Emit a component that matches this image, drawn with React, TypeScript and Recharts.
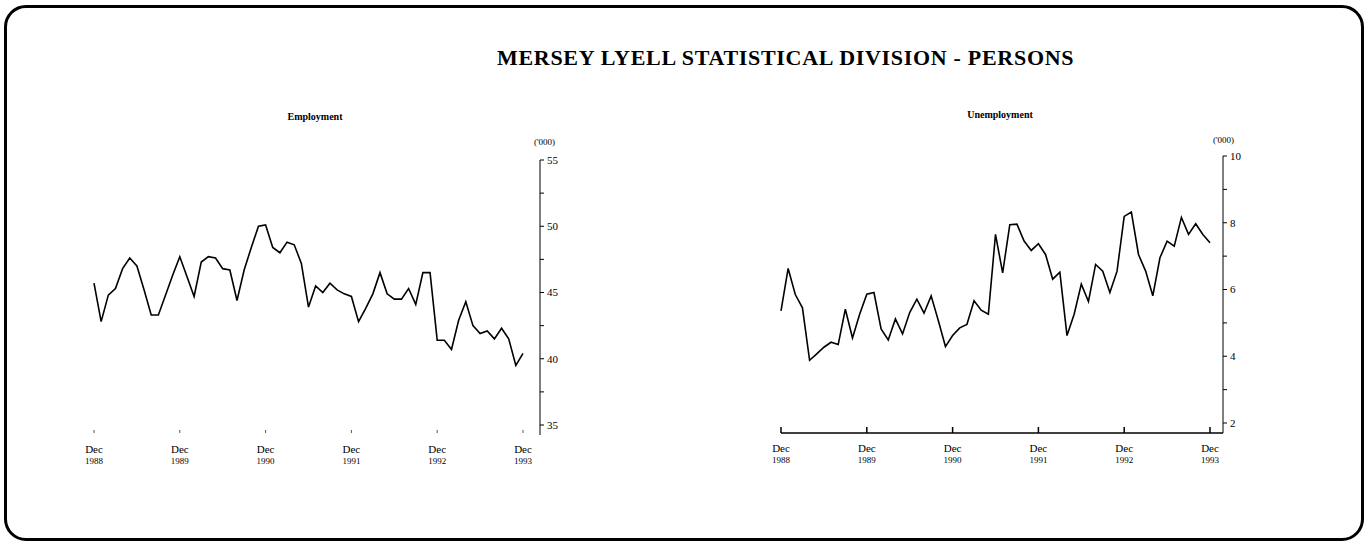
import React from 'react';
import { LineChart, Line, XAxis, YAxis } from 'recharts';

// month index 0 = Dec 1988 ... 60 = Dec 1993
const employment = [
  45.7, 42.8, 44.8, 45.3, 46.8, 47.6, 47.0, 45.2, 43.3, 43.3,
  44.8, 46.3, 47.7, 46.2, 44.7, 47.3, 47.7, 47.6, 46.8, 46.7,
  44.4, 46.7, 48.4, 50.0, 50.1, 48.4, 48.0, 48.8, 48.6, 47.2,
  43.9, 45.5, 45.0, 45.7, 45.2, 44.9, 44.7, 42.8, 43.8, 44.9,
  46.5, 44.9, 44.5, 44.5, 45.3, 44.1, 46.5, 46.5, 41.4, 41.4,
  40.7, 42.9, 44.3, 42.5, 41.9, 42.1, 41.5, 42.3, 41.5, 39.5,
  40.4,
];

const unemployment = [
  5.36, 6.63, 5.85, 5.45, 3.88, 4.07, 4.27, 4.42, 4.35, 5.41,
  4.55, 5.26, 5.86, 5.91, 4.82, 4.49, 5.12, 4.67, 5.31, 5.71,
  5.29, 5.81, 5.07, 4.29, 4.62, 4.85, 4.95, 5.66, 5.38, 5.26,
  7.65, 6.5, 7.94, 7.96, 7.45, 7.17, 7.37, 7.05, 6.31, 6.52,
  4.62, 5.26, 6.16, 5.64, 6.75, 6.55, 5.91, 6.55, 8.19, 8.32,
  7.05, 6.55, 5.81, 6.95, 7.45, 7.3, 8.16, 7.65, 7.97, 7.65,
  7.4,
];

const xTicks = [0, 12, 24, 36, 48, 60];
const yearLabels = ['1988', '1989', '1990', '1991', '1992', '1993'];
const empTicks = [35, 37.5, 40, 42.5, 45, 47.5, 50, 52.5, 55];
const unempTicks = [2, 3, 4, 5, 6, 7, 8, 9, 10];

const empData = employment.map((v, i) => ({ m: i, v }));
const unempData = unemployment.map((v, i) => ({ m: i, v }));

const serif = '"Liberation Serif", "DejaVu Serif", serif';

const DecTick = (props: any) => {
  const { x, y, payload, up } = props;
  const idx = xTicks.indexOf(payload.value);
  return (
    <g transform={`translate(${x},${y})`}>
      {up ? <line x1={0} y1={0} x2={0} y2={-6} stroke="#000" strokeWidth={1.5} /> : <line x1={0} y1={-2} x2={0} y2={-5} stroke="#555" strokeWidth={1} />}
      <text textAnchor="middle" fontFamily={serif} fill="#000">
        <tspan x={0} y={up ? 19 : 18} fontSize={11}>Dec</tspan>
        <tspan x={0} y={up ? 30 : 29} fontSize={9}>{yearLabels[idx]}</tspan>
      </text>
    </g>
  );
};

const App = () => {
  return (
    <div style={{ position: 'absolute', left: 0, top: 0, width: 1370, height: 547, background: '#fff', fontFamily: serif }}>
      <div style={{ position: 'absolute', left: 4, top: 5, width: 1360, height: 536, border: '3px solid #000', borderRadius: 22, boxSizing: 'border-box' }} />

      <div style={{ position: 'absolute', left: 497, top: 45, fontSize: 22, letterSpacing: 0.7, fontWeight: 'bold', whiteSpace: 'nowrap', color: '#000' }}>
        MERSEY LYELL STATISTICAL DIVISION - PERSONS
      </div>
      <div style={{ position: 'absolute', left: 265, width: 100, top: 111, textAlign: 'center', fontSize: 10, fontWeight: 'bold' }}>Employment</div>
      <div style={{ position: 'absolute', left: 940, width: 120, top: 109, textAlign: 'center', fontSize: 10, fontWeight: 'bold' }}>Unemployment</div>
      <div style={{ position: 'absolute', left: 534, top: 137, fontSize: 9 }}>('000)</div>
      <div style={{ position: 'absolute', left: 1213, top: 135, fontSize: 9 }}>('000)</div>

      <div style={{ position: 'absolute', left: 60, top: 130 }}>
        <LineChart width={510} height={347} data={empData} margin={{ top: 30, right: 0, left: 34, bottom: 12 }}>
          <XAxis
            dataKey="m"
            type="number"
            domain={[0, 60]}
            ticks={xTicks}
            interval={0}
            axisLine={false}
            tickLine={false}
            tickSize={0}
            tickMargin={0}
            height={30}
            padding={{ left: 0, right: 17 }}
            tick={<DecTick />}
          />
          <YAxis
            orientation="right"
            type="number"
            domain={[35, 55]}
            ticks={empTicks}
            interval={0}
            width={30}
            padding={{ top: 0, bottom: 10 }}
            stroke="#000"
            tickSize={4}
            tickMargin={3}
            tickFormatter={(v: number) => (v % 5 === 0 ? String(v) : '')}
            tick={{ fontSize: 11, fontFamily: serif, fill: '#000' }}
          />
          <Line type="linear" dataKey="v" stroke="#000" strokeWidth={1.6} dot={false} isAnimationActive={false} />
        </LineChart>
      </div>

      <div style={{ position: 'absolute', left: 740, top: 130 }}>
        <LineChart width={513} height={345} data={unempData} margin={{ top: 26, right: 0, left: 41, bottom: 12 }}>
          <XAxis
            dataKey="m"
            type="number"
            domain={[0, 60]}
            ticks={xTicks}
            interval={0}
            stroke="#000"
            strokeWidth={1.5}
            tickLine={false}
            tickSize={0}
            tickMargin={0}
            height={30}
            padding={{ left: 0, right: 13 }}
            tick={<DecTick up />}
          />
          <YAxis
            orientation="right"
            type="number"
            domain={[2, 10]}
            ticks={unempTicks}
            interval={0}
            width={30}
            padding={{ top: 0, bottom: 10 }}
            stroke="#000"
            tickSize={4}
            tickMargin={3}
            tickFormatter={(v: number) => (v % 2 === 0 ? String(v) : '')}
            tick={{ fontSize: 11, fontFamily: serif, fill: '#000' }}
          />
          <Line type="linear" dataKey="v" stroke="#000" strokeWidth={1.6} dot={false} isAnimationActive={false} />
        </LineChart>
      </div>
    </div>
  );
};

export default App;
